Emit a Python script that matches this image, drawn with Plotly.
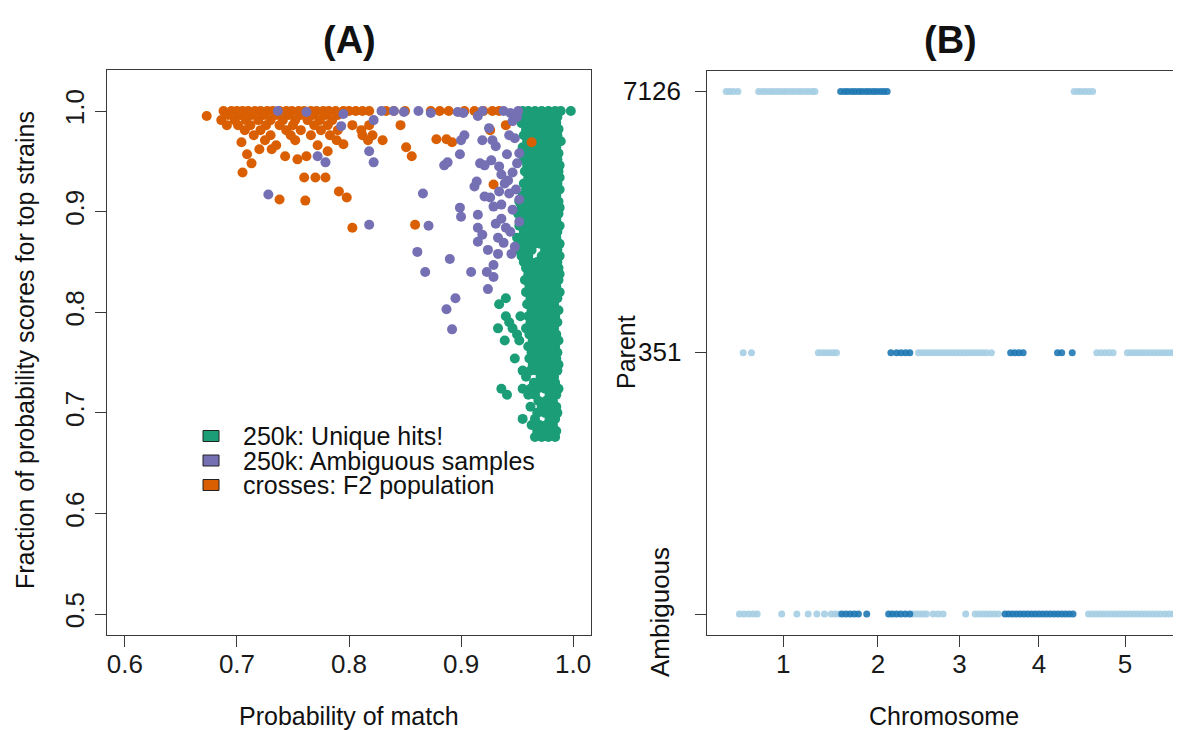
import plotly.graph_objects as go

# ---------------- Panel A data ----------------
green_x = [
    0.955, 0.960, 0.966, 0.972, 0.978, 0.984, 0.989, 0.998,
    0.957, 0.963, 0.969, 0.975, 0.981, 0.986,
    0.954, 0.960, 0.967, 0.973, 0.979, 0.985,
    0.958, 0.964, 0.970, 0.976, 0.982, 0.987,
    0.956, 0.962, 0.968, 0.974, 0.980, 0.986,
    0.959, 0.965, 0.971, 0.977, 0.983, 0.989,
    0.955, 0.961, 0.967, 0.973, 0.979, 0.985,
    0.958, 0.964, 0.970, 0.976, 0.982, 0.987,
    0.956, 0.962, 0.968, 0.974, 0.980, 0.986,
    0.959, 0.965, 0.971, 0.977, 0.983, 0.988,
    0.957, 0.963, 0.969, 0.975, 0.981, 0.987,
    0.960, 0.966, 0.972, 0.978, 0.984, 0.988,
    0.956, 0.962, 0.968, 0.974, 0.980, 0.986,
    0.958, 0.964, 0.970, 0.976, 0.982, 0.988,
    0.955, 0.961, 0.967, 0.973, 0.979, 0.985,
    0.952, 0.958, 0.964, 0.970, 0.976, 0.982, 0.987,
    0.954, 0.960, 0.966, 0.972, 0.978, 0.984, 0.988,
    0.951, 0.957, 0.963, 0.969, 0.975, 0.981, 0.987,
    0.955, 0.961, 0.967, 0.973, 0.979, 0.985,
    0.952, 0.958, 0.964, 0.970, 0.976, 0.982, 0.988,
    0.956, 0.962, 0.968, 0.974, 0.980, 0.986,
    0.950, 0.955, 0.961, 0.967, 0.973, 0.979, 0.985,
    0.953, 0.959, 0.965, 0.971, 0.977, 0.983, 0.988,
    0.951, 0.957, 0.963, 0.975, 0.981, 0.986,
    0.954, 0.960, 0.972, 0.978, 0.984, 0.988,
    0.956, 0.962, 0.968, 0.974, 0.980, 0.986,
    0.958, 0.964, 0.970, 0.976, 0.982, 0.987,
    0.960, 0.966, 0.972, 0.978, 0.984, 0.988,
    0.957, 0.963, 0.969, 0.975, 0.981, 0.987,
    0.961, 0.967, 0.973, 0.979, 0.985,
    0.958, 0.964, 0.970, 0.976, 0.982, 0.988,
    0.940, 0.962, 0.968, 0.974, 0.980, 0.986,
    0.934, 0.959, 0.965, 0.971, 0.977, 0.983,
    0.963, 0.969, 0.975, 0.981, 0.987,
    0.940, 0.953, 0.960, 0.966, 0.972, 0.978, 0.984,
    0.943, 0.962, 0.968, 0.974, 0.980, 0.986,
    0.933, 0.946, 0.958, 0.965, 0.971, 0.977, 0.983,
    0.950, 0.961, 0.967, 0.973, 0.979, 0.985,
    0.939, 0.952, 0.964, 0.970, 0.976, 0.982, 0.987,
    0.960, 0.966, 0.972, 0.978, 0.984,
    0.963, 0.969, 0.975, 0.981, 0.986,
    0.948, 0.961, 0.967, 0.973, 0.979, 0.985,
    0.964, 0.970, 0.976, 0.982, 0.987,
    0.955, 0.962, 0.968, 0.974, 0.980, 0.986,
    0.958, 0.971, 0.977, 0.983,
    0.965, 0.971, 0.978, 0.984,
    0.936, 0.955, 0.962, 0.968, 0.975, 0.981, 0.987,
    0.941, 0.960, 0.966, 0.979, 0.985,
    0.969, 0.976, 0.982,
    0.962, 0.972, 0.978, 0.985,
    0.968, 0.975, 0.981, 0.986,
    0.955, 0.966, 0.979, 0.984,
    0.963, 0.970, 0.976, 0.982,
    0.968, 0.974, 0.980, 0.985,
    0.966, 0.972, 0.978, 0.984,
]
green_y = [
    1.000, 1.000, 1.000, 1.000, 1.000, 1.000, 1.000, 1.000,
    0.994, 0.994, 0.994, 0.994, 0.994, 0.994,
    0.988, 0.988, 0.988, 0.988, 0.988, 0.988,
    0.982, 0.982, 0.982, 0.982, 0.982, 0.982,
    0.976, 0.976, 0.976, 0.976, 0.976, 0.976,
    0.970, 0.970, 0.970, 0.970, 0.970, 0.970,
    0.964, 0.964, 0.964, 0.964, 0.964, 0.964,
    0.958, 0.958, 0.958, 0.958, 0.958, 0.958,
    0.952, 0.952, 0.952, 0.952, 0.952, 0.952,
    0.946, 0.946, 0.946, 0.946, 0.946, 0.946,
    0.940, 0.940, 0.940, 0.940, 0.940, 0.940,
    0.934, 0.934, 0.934, 0.934, 0.934, 0.934,
    0.928, 0.928, 0.928, 0.928, 0.928, 0.928,
    0.922, 0.922, 0.922, 0.922, 0.922, 0.922,
    0.916, 0.916, 0.916, 0.916, 0.916, 0.916,
    0.910, 0.910, 0.910, 0.910, 0.910, 0.910, 0.910,
    0.904, 0.904, 0.904, 0.904, 0.904, 0.904, 0.904,
    0.898, 0.898, 0.898, 0.898, 0.898, 0.898, 0.898,
    0.892, 0.892, 0.892, 0.892, 0.892, 0.892,
    0.886, 0.886, 0.886, 0.886, 0.886, 0.886, 0.886,
    0.880, 0.880, 0.880, 0.880, 0.880, 0.880,
    0.874, 0.874, 0.874, 0.874, 0.874, 0.874, 0.874,
    0.868, 0.868, 0.868, 0.868, 0.868, 0.868, 0.868,
    0.862, 0.862, 0.862, 0.862, 0.862, 0.862,
    0.856, 0.856, 0.856, 0.856, 0.856, 0.856,
    0.850, 0.850, 0.850, 0.850, 0.850, 0.850,
    0.844, 0.844, 0.844, 0.844, 0.844, 0.844,
    0.838, 0.838, 0.838, 0.838, 0.838, 0.838,
    0.832, 0.832, 0.832, 0.832, 0.832, 0.832,
    0.826, 0.826, 0.826, 0.826, 0.826,
    0.820, 0.820, 0.820, 0.820, 0.820, 0.820,
    0.814, 0.814, 0.814, 0.814, 0.814, 0.814,
    0.808, 0.808, 0.808, 0.808, 0.808, 0.808,
    0.802, 0.802, 0.802, 0.802, 0.802,
    0.796, 0.796, 0.796, 0.796, 0.796, 0.796, 0.796,
    0.790, 0.790, 0.790, 0.790, 0.790, 0.790,
    0.784, 0.784, 0.784, 0.784, 0.784, 0.784, 0.784,
    0.778, 0.778, 0.778, 0.778, 0.778, 0.778,
    0.772, 0.772, 0.772, 0.772, 0.772, 0.772, 0.772,
    0.766, 0.766, 0.766, 0.766, 0.766,
    0.760, 0.760, 0.760, 0.760, 0.760,
    0.754, 0.754, 0.754, 0.754, 0.754, 0.754,
    0.748, 0.748, 0.748, 0.748, 0.748,
    0.742, 0.742, 0.742, 0.742, 0.742, 0.742,
    0.736, 0.736, 0.736, 0.736,
    0.730, 0.730, 0.730, 0.730,
    0.724, 0.724, 0.724, 0.724, 0.724, 0.724, 0.724,
    0.718, 0.718, 0.718, 0.718, 0.718,
    0.712, 0.712, 0.712,
    0.706, 0.706, 0.706, 0.706,
    0.700, 0.700, 0.700, 0.700,
    0.694, 0.694, 0.694, 0.694,
    0.688, 0.688, 0.688, 0.688,
    0.682, 0.682, 0.682, 0.682,
    0.676, 0.676, 0.676, 0.676,
]

orange_x = [
    0.688, 0.695, 0.700, 0.705, 0.710, 0.716, 0.721, 0.727, 0.732, 0.738,
    0.744, 0.749, 0.755, 0.760, 0.766, 0.771, 0.777, 0.782, 0.788, 0.795,
    0.800, 0.806, 0.812, 0.818, 0.833, 0.840, 0.850, 0.873, 0.881, 0.889,
    0.903, 0.912, 0.920, 0.928, 0.934,
    0.692, 0.703, 0.713, 0.724, 0.735, 0.746, 0.757, 0.768, 0.779, 0.790,
    0.686, 0.698, 0.708, 0.719, 0.730, 0.741, 0.752, 0.763, 0.774, 0.785,
    0.691, 0.701, 0.712, 0.726, 0.738, 0.750, 0.769, 0.781, 0.803, 0.818, 0.846, 0.940,
    0.707, 0.721, 0.744, 0.757, 0.775, 0.790, 0.811, 0.926,
    0.715, 0.730, 0.748, 0.766, 0.783, 0.812, 0.821,
    0.673, 0.704, 0.709, 0.713, 0.705, 0.725, 0.731, 0.738, 0.743, 0.752,
    0.754, 0.760, 0.761, 0.762, 0.770, 0.779, 0.781, 0.789, 0.791, 0.798,
    0.803, 0.817, 0.830, 0.851, 0.856, 0.859, 0.878, 0.887, 0.892, 0.929,
    0.963, 0.720, 0.735, 0.772, 0.795,
]
orange_y = [
    1.000, 1.000, 1.000, 1.000, 1.000, 1.000, 1.000, 1.000, 1.000, 1.000,
    1.000, 1.000, 1.000, 1.000, 1.000, 1.000, 1.000, 1.000, 1.000, 1.000,
    1.000, 1.000, 1.000, 1.000, 1.000, 1.000, 1.000, 1.000, 1.000, 1.000,
    1.000, 1.000, 1.000, 1.000, 1.000,
    0.996, 0.996, 0.996, 0.996, 0.996, 0.996, 0.996, 0.996, 0.996, 0.996,
    0.991, 0.991, 0.991, 0.991, 0.991, 0.991, 0.991, 0.991, 0.991, 0.991,
    0.986, 0.986, 0.986, 0.986, 0.986, 0.986, 0.986, 0.986, 0.986, 0.986, 0.986, 0.986,
    0.981, 0.981, 0.981, 0.981, 0.981, 0.981, 0.981, 0.981,
    0.976, 0.976, 0.976, 0.976, 0.976, 0.976, 0.976,
    0.995, 0.969, 0.957, 0.948, 0.939, 0.971, 0.962, 0.912, 0.955, 0.971,
    0.952, 0.934, 0.911, 0.955, 0.934, 0.934, 0.960, 0.971, 0.920, 0.914,
    0.884, 0.971, 0.971, 0.964, 0.955, 0.887, 0.972, 0.972, 0.969, 0.927,
    0.969, 0.962, 0.966, 0.966, 0.967,
]

purple_x = [
    0.7365, 0.762, 0.795, 0.793, 0.822, 0.829, 0.818, 0.822, 0.728, 0.772,
    0.779, 0.818, 0.840, 0.849, 0.862, 0.873, 0.897, 0.902, 0.915, 0.919,
    0.866, 0.861, 0.868, 0.871, 0.885, 0.888, 0.890, 0.887, 0.892, 0.895,
    0.900, 0.903, 0.899, 0.899, 0.900, 0.909, 0.912, 0.914, 0.917, 0.915,
    0.915, 0.915, 0.919, 0.921, 0.923, 0.924, 0.926, 0.928, 0.929, 0.929,
    0.931, 0.933, 0.933, 0.936, 0.936, 0.936, 0.940, 0.941, 0.943, 0.943,
    0.946, 0.946, 0.948, 0.950, 0.950, 0.938, 0.944, 0.951, 0.946, 0.931,
    0.927, 0.934, 0.939, 0.929, 0.921, 0.944, 0.938, 0.924, 0.949, 0.925,
    0.948, 0.952, 0.942, 0.952, 0.945, 0.952, 0.934, 0.919,
]
purple_y = [
    1.000, 0.999, 0.997, 0.985, 0.991, 1.000, 0.960, 0.949, 0.917, 0.955,
    0.949, 0.887, 1.000, 0.999, 1.000, 0.998, 0.999, 0.998, 0.995, 1.000,
    0.918, 0.860, 0.840, 0.886, 0.946, 0.949, 0.853, 0.803, 0.783, 0.814,
    0.971, 0.976, 0.957, 0.904, 0.895, 0.840, 0.925, 0.930, 0.948, 0.897,
    0.884, 0.870, 0.971, 0.946, 0.840, 0.823, 0.914, 0.971, 0.847, 0.835,
    0.888, 0.874, 0.858, 0.937, 0.907, 0.893, 0.884, 0.957, 0.918, 0.976,
    0.939, 0.902, 0.865, 0.994, 0.948, 1.000, 0.998, 1.000, 0.990, 0.965,
    0.951, 0.945, 0.928, 0.905, 0.915, 0.880, 0.869, 0.862, 0.922, 0.983,
    0.973, 0.958, 0.931, 0.912, 0.858, 0.890, 0.920, 0.877,
]

legend_labels = ["250k: Unique hits!", "250k: Ambiguous samples", "crosses: F2 population"]
x_ticks_a = [0.6, 0.7, 0.8, 0.9, 1.0]
y_ticks_a = [0.5, 0.6, 0.7, 0.8, 0.9, 1.0]

# ---------------- Panel B data ----------------
chrom_names = ["1", "2", "3", "4", "5"]
chrom_lengths_mb = [30.43, 19.70, 23.46, 18.59, 26.98]
parent_levels = ["Ambiguous", "351", "7126"]

p7126_light = [0.1, 1.0, 2.0, 3.2,
               8.7, 9.7, 10.6, 11.6, 12.5, 13.5, 14.4, 15.4, 16.3, 17.3, 18.2,
               19.2, 20.1, 21.1, 22.0, 23.0, 23.6,
               92.2, 93.2, 94.1, 95.1, 96.1, 97.1]
p7126_dark = [30.4, 31.4, 32.3, 33.3, 34.2, 35.2, 36.1, 37.1, 38.0, 39.0,
              39.9, 40.9, 41.8, 42.7]
p351_light = [4.6, 6.8,
              24.5, 25.5, 26.4, 27.4, 28.4, 29.3,
              51.0, 52.0, 53.0, 54.0, 55.0, 56.0, 57.0, 58.0, 59.0, 60.0, 61.0,
              62.0, 63.0, 64.0, 65.0, 66.0, 67.0, 68.0, 69.0, 70.3,
              98.2, 99.3, 100.4, 101.5, 102.5,
              106.3, 107.3, 108.3, 109.3, 110.3, 111.3, 112.3, 113.4, 114.4,
              115.4, 116.4, 117.4, 118.4]
p351_dark = [43.7, 45.2, 46.4, 47.6, 48.7,
             75.4, 76.5, 77.6, 78.7,
             87.8, 88.9, 91.7]
amb_light = [3.6, 4.8, 6.0, 7.2, 8.3, 14.8, 18.8, 21.8, 24.1, 26.1,
             27.9, 28.9, 29.8,
             49.6, 50.5, 51.4, 52.3, 53.1, 54.9, 56.2, 57.5, 63.5,
             66.0, 67.0, 68.0, 69.0, 70.0, 71.0, 72.1,
             96.0, 97.0, 98.0, 99.0, 100.0, 101.0, 102.0, 103.0, 104.0, 105.0,
             106.0, 107.0, 108.0, 109.0, 110.0, 111.0, 112.0, 113.0, 114.0,
             115.0, 116.2, 117.3, 118.4]
amb_dark = [30.7, 31.8, 32.9, 34.0, 35.1, 37.3,
            43.1, 44.1, 45.2, 46.3, 47.5, 48.7,
            73.9, 74.9, 75.9, 76.9, 77.9, 78.9, 79.9, 80.9, 81.9, 82.9, 83.9,
            84.9, 85.9, 86.9, 87.9, 88.9, 89.9, 90.9, 91.9]

# ---------------- styling ----------------
W, H = 1181, 730
OFF = 8  # the page body margin shifts the figure by 8 px
FONT = "Liberation Sans, Arial, Helvetica, sans-serif"
GREEN, PURPLE, ORANGE = "#1b9e77", "#7570b3", "#d95f02"
LIGHT, DARK = "rgba(166,206,227,0.9)", "rgba(31,120,180,0.9)"
AXC = "#3a3a3a"

def px(x):
    return (x - OFF) / W

def py(y):
    return 1 - (y - OFF) / H

fig = go.Figure()

for xs, ys, col in [(green_x, green_y, GREEN), (orange_x, orange_y, ORANGE),
                    (purple_x, purple_y, PURPLE)]:
    fig.add_trace(go.Scatter(x=xs, y=ys, mode="markers", xaxis="x", yaxis="y",
                             marker=dict(size=10, color=col, line=dict(width=0)),
                             showlegend=False, hoverinfo="x+y"))

# chromosome centers on cumulative axis
starts = []
acc = 0.0
for L in chrom_lengths_mb:
    starts.append(acc)
    acc += L
centers = [s + L / 2 for s, L in zip(starts, chrom_lengths_mb)]

for xs, level, col in [(p7126_light, "7126", LIGHT), (p7126_dark, "7126", DARK),
                       (p351_light, "351", LIGHT), (p351_dark, "351", DARK),
                       (amb_light, "Ambiguous", LIGHT), (amb_dark, "Ambiguous", DARK)]:
    yi = parent_levels.index(level)
    fig.add_trace(go.Scatter(x=xs, y=[yi] * len(xs), mode="markers", xaxis="x2", yaxis="y2",
                             marker=dict(size=7, color=col, line=dict(width=0)),
                             showlegend=False, hoverinfo="x"))

axis_common = dict(showgrid=False, zeroline=False, showline=True, linecolor=AXC,
                   linewidth=1.3, ticks="outside", ticklen=11, tickwidth=1.3,
                   tickcolor=AXC, tickfont=dict(family=FONT, size=26, color="#1a1a1a"))

# right end of panel B's plot area is the figure edge (cut off like the reference)
px_per_mb = 3.778
zero_px = 725.8
xb_right = (W + OFF - zero_px) / px_per_mb

fig.update_layout(
    width=W, height=H, margin=dict(l=0, r=0, t=0, b=0),
    paper_bgcolor="white", plot_bgcolor="white",
    xaxis=dict(domain=[px(107), px(591)], range=[0.584, 1.016], anchor="y",
               tickvals=x_ticks_a, ticktext=[f"{v:.1f}" for v in x_ticks_a],
               mirror=True, ticklabelstandoff=-5, **axis_common),
    yaxis=dict(domain=[py(635), py(70)], range=[0.4792, 1.0408], anchor="x",
               tickvals=y_ticks_a, ticktext=[f"{v:.1f}" for v in y_ticks_a],
               tickangle=-90, mirror=True, **axis_common),
    xaxis2=dict(domain=[px(707.3), 1.0], range=[-4.9, xb_right], anchor="y2",
                tickvals=centers, ticktext=chrom_names, mirror=True,
                ticklabelstandoff=-5, **axis_common),
    yaxis2=dict(domain=[py(635), py(70.7)], range=[-0.08, 2.08], anchor="x2",
                tickvals=[0, 1, 2], showticklabels=False, mirror=False, **axis_common),
)

ann = []
def A(text, x, y, size, xanchor="center", angle=0, bold=False):
    ann.append(dict(text=f"<b>{text}</b>" if bold else text, x=px(x), y=py(y),
                    xref="paper", yref="paper", showarrow=False, xanchor=xanchor,
                    yanchor="middle", textangle=angle,
                    font=dict(family=FONT, size=size, color="#111")))

A("(A)", 349, 40, 38, bold=True)
A("(B)", 950, 40, 38, bold=True)
A("Probability of match", 349, 716, 25)
A("Fraction of probability scores for top strains", 25, 350, 25, angle=-90)
A("Chromosome", 944, 716, 25)
A("Parent", 626, 352, 25, angle=-90)
A("7126", 683, 91, 26, xanchor="right")
A("351", 683, 352, 26, xanchor="right")
A("Ambiguous", 660, 612, 26, angle=-90)

leg_rows = [436, 460.5, 485]
shapes = []
for lab, col, yy in zip(legend_labels, [GREEN, PURPLE, ORANGE], leg_rows):
    shapes.append(dict(type="rect", xref="paper", yref="paper",
                       x0=px(203), x1=px(219), y0=py(yy + 5.5), y1=py(yy - 5.5),
                       fillcolor=col, line=dict(color="#222", width=1)))
    A(lab, 241, yy, 25, xanchor="left")

fig.update_layout(annotations=ann, shapes=shapes)
fig.write_html("out.html")
